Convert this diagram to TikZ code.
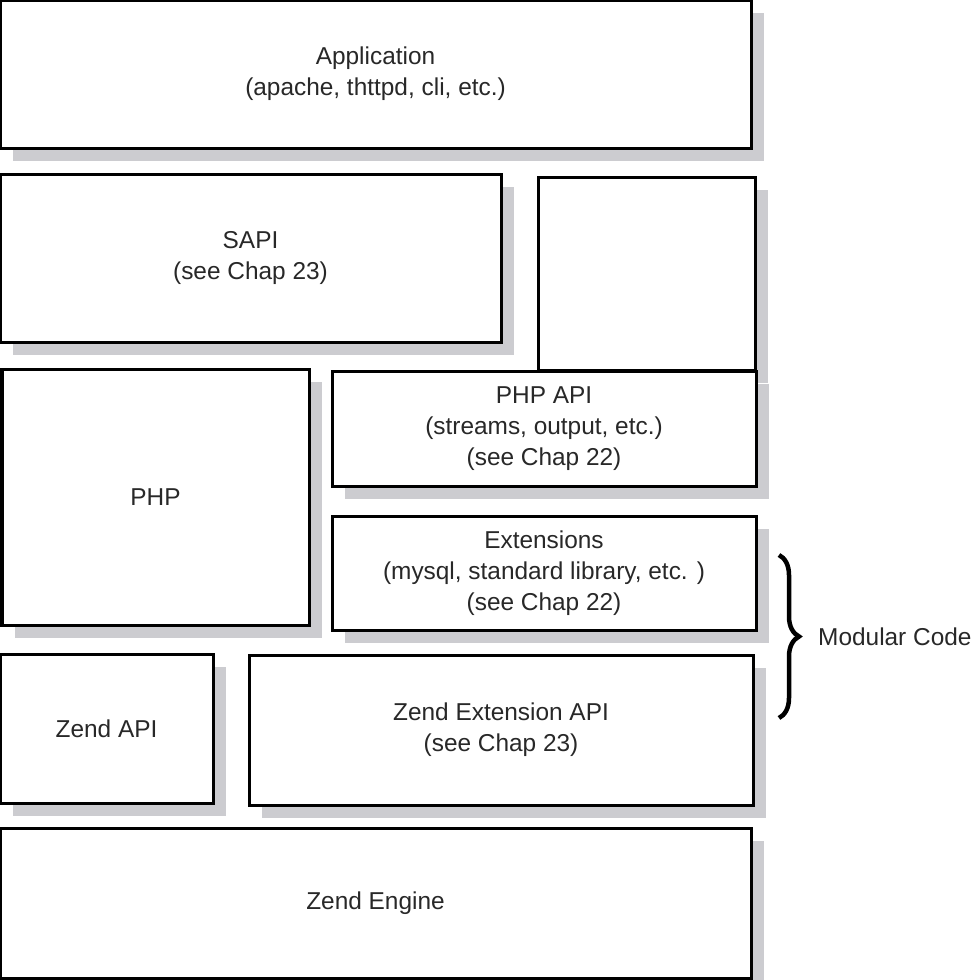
\documentclass[tikz,border=0pt]{standalone}
\usepackage{fontspec}
\setmainfont{Liberation Sans}
\usetikzlibrary{shadows,%
	decorations.pathreplacing}

\definecolor{shadowgrey}{RGB}{204,204,208}
\definecolor{textgrey}{RGB}{40,40,40}

\begin{document}
\begin{tikzpicture}[x=1bp,y=-1bp]

		\useasboundingbox (0,0) rectangle (972,980);

		\tikzset{LayerStyle/.style =
				{shape=rectangle, draw=black, line width=3bp, fill=white,
				anchor=north west, inner sep=0pt, outer sep=0pt, align=center,
				text=textgrey, font=\fontsize{24.5}{31}\selectfont,
				general shadow={fill=shadowgrey, shadow xshift=13bp, shadow yshift=-13bp}}
		}

		%application
		\node[LayerStyle, minimum width=751bp, minimum height=148bp] (application) at (0,0)
			{Application\\(apache, thttpd, cli, etc.)};

		%sapi
		\node[LayerStyle, minimum width=501bp, minimum height=168bp] (sapi) at (0,174)
			{SAPI\\(see Chap 23)};
		\node[LayerStyle, minimum width=217bp, minimum height=193bp] (module) at (538,177) {};

		%php
		\node[LayerStyle, minimum width=307bp, minimum height=256bp] (php) at (2,369)
			{PHP};
		\node[LayerStyle, minimum width=424bp, minimum height=115bp] (phpapi) at (332,371)
			{PHP API\\(streams, output, etc.)\\(see Chap 22)};
		\node[LayerStyle, minimum width=424bp, minimum height=114bp] (extensions) at (332,516)
			{Extensions\\(mysql, standard library, etc. )\\(see Chap 22)};

		%zend
		\node[LayerStyle, minimum width=213bp, minimum height=149bp] (zendapi) at (0,654)
			{Zend API};
		\node[LayerStyle, minimum width=504bp, minimum height=150bp] (zendext) at (249,655)
			{Zend Extension API\\(see Chap 23)};
		\node[LayerStyle, minimum width=751bp, minimum height=150bp] (zendengine) at (0,828)
			{Zend Engine};

		%modular
		\coordinate (modtop) at (779,555);
		\coordinate (modbot) at (779,718);
		\draw[line width=4.5bp, decorate, decoration={brace, amplitude=20bp}]
			(modtop) -- (modbot);
		\node[anchor=west, inner sep=0pt, text=textgrey, font=\fontsize{24.5}{31}\selectfont]
			(modular) at (818,637) {Modular Code};
	\end{tikzpicture}
\end{document}
